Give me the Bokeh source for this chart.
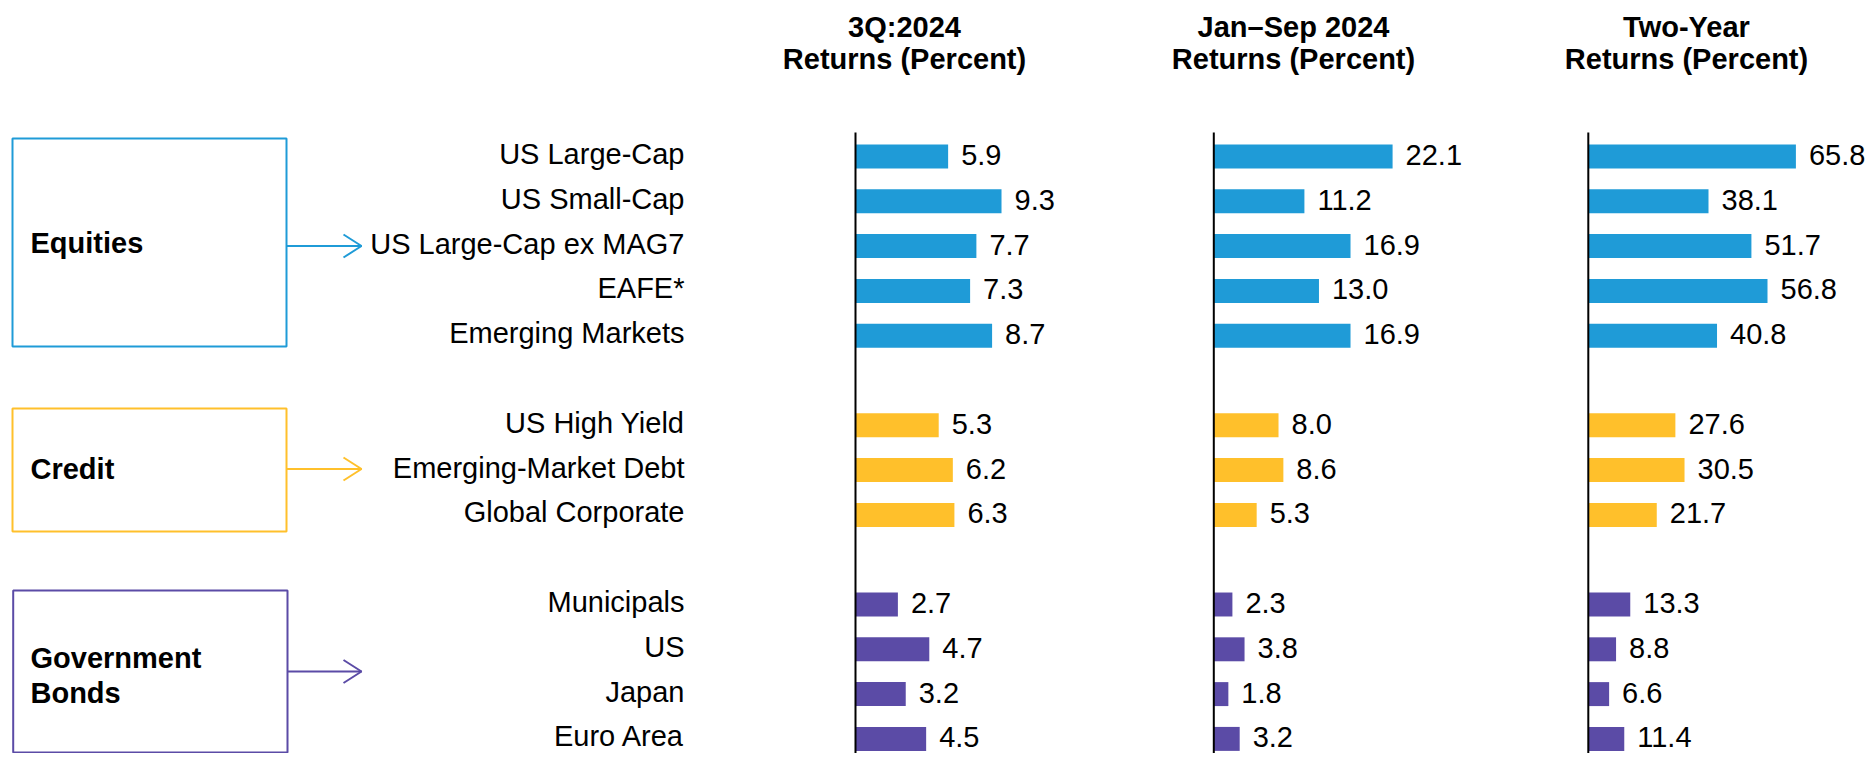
from bokeh.plotting import figure
from bokeh.models import Range1d, ColumnDataSource
from bokeh.core.properties import value
from bokeh.embed import file_html
from bokeh.resources import INLINE

# ---------------- data ----------------
categories = ["US Large-Cap", "US Small-Cap", "US Large-Cap ex MAG7", "EAFE*", "Emerging Markets",
              "US High Yield", "Emerging-Market Debt", "Global Corporate",
              "Municipals", "US", "Japan", "Euro Area"]
groups = ["Equities"] * 5 + ["Credit"] * 3 + ["Government Bonds"] * 4
q3_2024 = [5.9, 9.3, 7.7, 7.3, 8.7, 5.3, 6.2, 6.3, 2.7, 4.7, 3.2, 4.5]
jan_sep_2024 = [22.1, 11.2, 16.9, 13.0, 16.9, 8.0, 8.6, 5.3, 2.3, 3.8, 1.8, 3.2]
two_year = [65.8, 38.1, 51.7, 56.8, 40.8, 27.6, 30.5, 21.7, 13.3, 8.8, 6.6, 11.4]
panel_titles = [["3Q:2024", "Returns (Percent)"],
                ["Jan\u2013Sep 2024", "Returns (Percent)"],
                ["Two-Year", "Returns (Percent)"]]
group_names = ["Equities", "Credit", "Government Bonds"]
group_label_lines = [["Equities"], ["Credit"], ["Government", "Bonds"]]

# ---------------- styling / layout ----------------
FONT = value("Liberation Sans")
FS = "29px"
group_colors = {"Equities": "#1F9BD7", "Credit": "#FFC02B", "Government Bonds": "#5B4BA6"}
W, H = 1865, 753

# slots: one empty slot between groups
slots = []
s = 0
for i, g in enumerate(groups):
    if i > 0 and g != groups[i - 1]:
        s += 1
    slots.append(s)
    s += 1

ROW0, ROWSTEP = 156.0, 44.8
panel_x0 = [855.0, 1213.3, 1587.8]
panel_scale = [15.7, 8.09, 3.155]
header_cx = [904, 1293, 1686]

p = figure(width=W, height=H, x_range=Range1d(0, W), y_range=Range1d(H, 0),
           output_backend="svg", toolbar_location=None, title=None,
           x_axis_type=None, y_axis_type=None, min_border=0,
           outline_line_color=None)
p.xgrid.visible = False
p.ygrid.visible = False
p.background_fill_color = "white"
p.border_fill_color = "white"

p.extra_y_ranges = {"rows": Range1d(start=(H - ROW0) / ROWSTEP, end=-ROW0 / ROWSTEP)}
for i in range(3):
    p.extra_x_ranges["p%d" % i] = Range1d(start=-panel_x0[i] / panel_scale[i],
                                          end=(W - panel_x0[i]) / panel_scale[i])

series = [q3_2024, jan_sep_2024, two_year]
colors = [group_colors[g] for g in groups]

for i, vals in enumerate(series):
    src = ColumnDataSource(dict(slot=slots, val=vals, color=colors,
                                label=["%.1f" % v for v in vals]))
    p.hbar(y="slot", left=0, right="val", height=0.535, fill_color="color",
           line_color=None, source=src, x_range_name="p%d" % i, y_range_name="rows")
    p.segment(x0=[0], x1=[0], y0=[132], y1=[H], line_color="black", line_width=2,
              x_range_name="p%d" % i)
    p.text(x="val", y="slot", text="label", source=src, x_offset=13, y_offset=-1.5,
           text_align="left", text_baseline="alphabetic", text_font=FONT,
           text_font_size=FS, text_color="black",
           x_range_name="p%d" % i, y_range_name="rows")
    # headers
    p.text(x=[header_cx[i], header_cx[i]], y=[26, 58.5], text=panel_titles[i],
           text_align="center", text_baseline="alphabetic", text_font=FONT,
           text_font_size=FS, text_font_style="bold", text_color="black")

# category labels
csrc = ColumnDataSource(dict(slot=slots, cat=categories))
p.text(x=684, y="slot", text="cat", source=csrc, y_offset=-2.5, text_align="right",
       text_baseline="alphabetic", text_font=FONT, text_font_size=FS,
       text_color="black", y_range_name="rows")

# group boxes, labels and arrows
boxes = [(12, 286, 138, 346), (12, 286, 408, 531), (12.7, 287, 590, 752)]
arrow_y = [245.5, 468.5, 671]
label_baselines = [[242], [468], [657, 692]]
for gi, g in enumerate(group_names):
    c = group_colors[g]
    l, r, t, b = boxes[gi]
    p.quad(left=[l], right=[r], top=[t], bottom=[b], fill_color=None,
           line_color=c, line_width=2)
    p.text(x=[30] * len(group_label_lines[gi]), y=label_baselines[gi],
           text=group_label_lines[gi], text_align="left", text_baseline="alphabetic",
           text_font=FONT, text_font_size=FS, text_font_style="bold", text_color="black")
    ay = arrow_y[gi]
    p.multi_line(xs=[[r, 361], [343, 361, 343]],
                 ys=[[ay, ay], [ay - 11.5, ay, ay + 11.5]],
                 line_color=c, line_width=2)

open("out.html", "w").write(file_html(p, INLINE))
